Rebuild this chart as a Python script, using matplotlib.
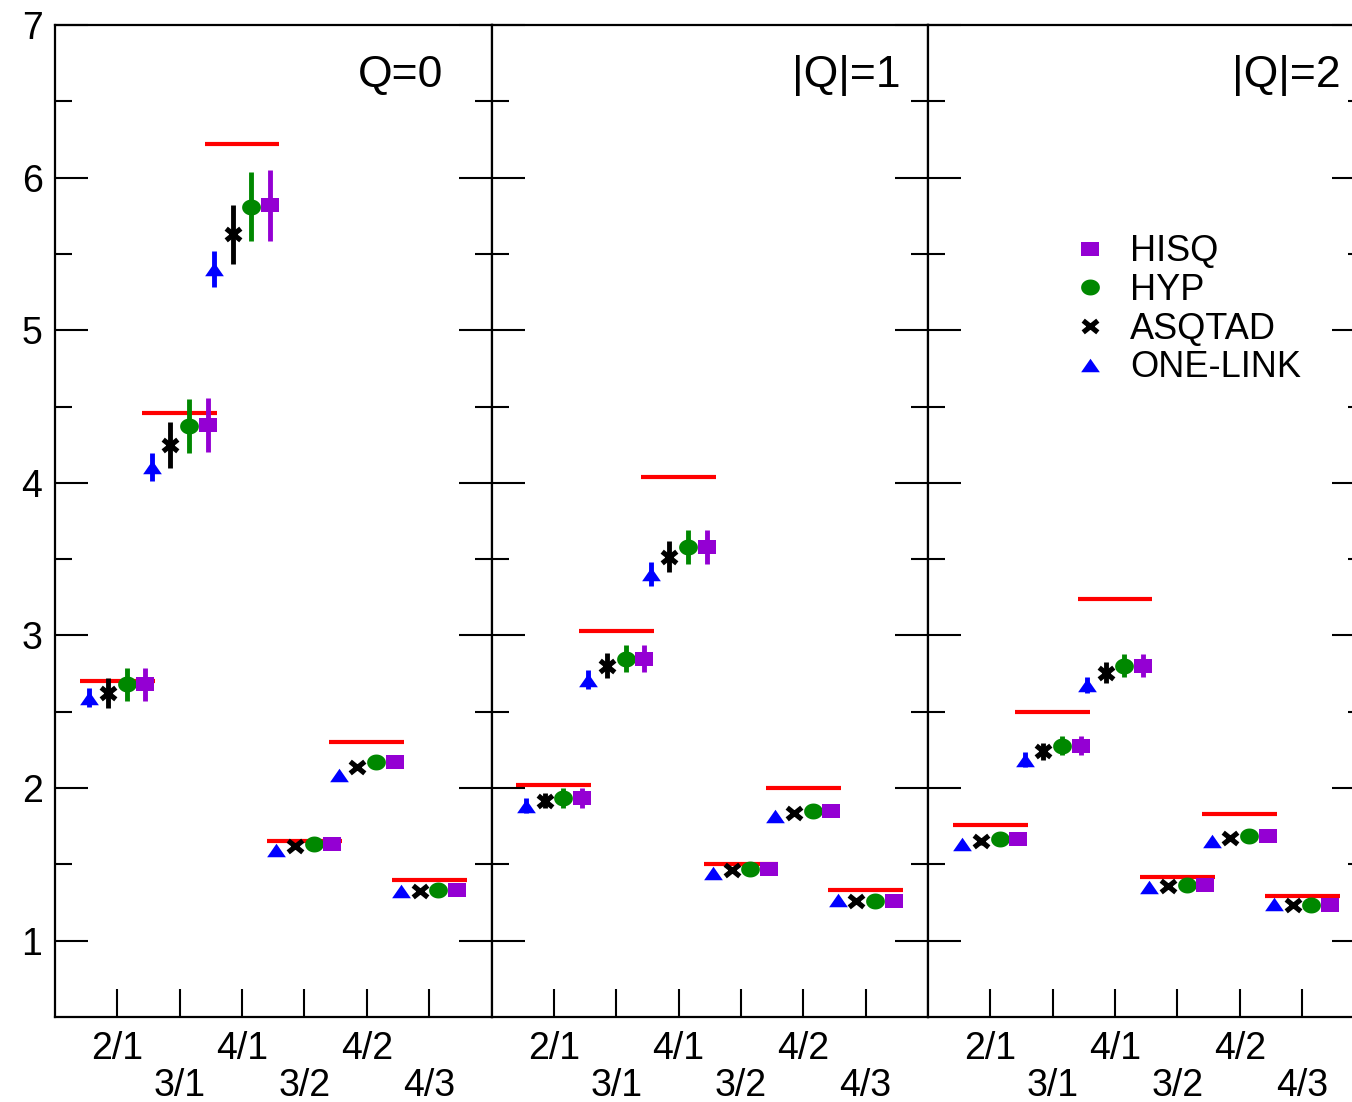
import numpy as np
import matplotlib
matplotlib.use("Agg")
import matplotlib.pyplot as plt
from matplotlib.path import Path
from matplotlib.lines import Line2D

plt.rcParams['font.family'] = ['Liberation Sans', 'DejaVu Sans']

# Ratio labels along x, one panel per topological sector
ratios = ['2/1', '3/1', '4/1', '3/2', '4/2', '4/3']
panel_titles = ['Q=0', '|Q|=1', '|Q|=2']

# Continuum expectation (red bars)
red_q0 = [2.70, 4.46, 6.22, 1.65, 2.30, 1.40]
red_q1 = [2.02, 3.03, 4.04, 1.50, 2.00, 1.33]
red_q2 = [1.76, 2.50, 3.24, 1.42, 1.83, 1.29]

# HISQ
hisq_q0 = [2.68, 4.38, 5.82, 1.635, 2.174, 1.329]
hisq_q0_err = [0.11, 0.175, 0.233, 0.02, 0.03, 0.02]
hisq_q1 = [1.934, 2.849, 3.582, 1.473, 1.853, 1.257]
hisq_q1_err = [0.065, 0.09, 0.111, 0.02, 0.025, 0.015]
hisq_q2 = [1.666, 2.277, 2.803, 1.367, 1.688, 1.233]
hisq_q2_err = [0.03, 0.062, 0.076, 0.015, 0.02, 0.012]

# HYP
hyp_q0 = [2.68, 4.372, 5.81, 1.634, 2.174, 1.329]
hyp_q0_err = [0.11, 0.175, 0.228, 0.02, 0.03, 0.02]
hyp_q1 = [1.934, 2.849, 3.582, 1.473, 1.853, 1.257]
hyp_q1_err = [0.065, 0.09, 0.111, 0.02, 0.025, 0.015]
hyp_q2 = [1.666, 2.277, 2.803, 1.367, 1.688, 1.233]
hyp_q2_err = [0.03, 0.062, 0.076, 0.015, 0.02, 0.012]

# ASQTAD
asq_q0 = [2.622, 4.248, 5.63, 1.618, 2.141, 1.323]
asq_q0_err = [0.097, 0.149, 0.193, 0.02, 0.02, 0.015]
asq_q1 = [1.917, 2.80, 3.517, 1.46, 1.836, 1.257]
asq_q1_err = [0.05, 0.082, 0.10, 0.015, 0.02, 0.012]
asq_q2 = [1.65, 2.24, 2.757, 1.36, 1.672, 1.233]
asq_q2_err = [0.025, 0.055, 0.07, 0.012, 0.015, 0.01]

# ONE-LINK
one_q0 = [2.593, 4.105, 5.40, 1.596, 2.087, 1.323]
one_q0_err = [0.064, 0.093, 0.118, 0.015, 0.015, 0.01]
one_q1 = [1.884, 2.711, 3.404, 1.443, 1.814, 1.268]
one_q1_err = [0.05, 0.063, 0.08, 0.012, 0.015, 0.01]
one_q2 = [1.635, 2.185, 2.678, 1.35, 1.65, 1.242]
one_q2_err = [0.02, 0.049, 0.052, 0.01, 0.012, 0.01]

red_all = [red_q0, red_q1, red_q2]
series = [
    # label, values per panel, errors per panel, offset, colour, marker
    ('ONE-LINK', [one_q0, one_q1, one_q2], [one_q0_err, one_q1_err, one_q2_err], -0.45, '#0000ff', 'tri'),
    ('ASQTAD', [asq_q0, asq_q1, asq_q2], [asq_q0_err, asq_q1_err, asq_q2_err], -0.15, 'black', 'x'),
    ('HYP', [hyp_q0, hyp_q1, hyp_q2], [hyp_q0_err, hyp_q1_err, hyp_q2_err], 0.15, '#008800', 'circ'),
    ('HISQ', [hisq_q0, hisq_q1, hisq_q2], [hisq_q0_err, hisq_q1_err, hisq_q2_err], 0.45, '#9400d3', 'sq'),
]

# slightly flattened markers like the original
tri_m = np.array([(-1, -0.72), (1, -0.72), (0, 0.72)])
t = np.linspace(0, 2 * np.pi, 60)
circ_m = np.column_stack([np.cos(t), 0.85 * np.sin(t)])
sq_m = np.array([(-1, -0.85), (1, -0.85), (1, 0.85), (-1, 0.85)])
x_m = Path([(-1, -0.8), (1, 0.8), (-1, 0.8), (1, -0.8)],
           [Path.MOVETO, Path.LINETO, Path.MOVETO, Path.LINETO])

marker_kw = {
    'tri': dict(marker=tri_m, markersize=13.5),
    'x': dict(marker=x_m, markersize=10.5, markeredgewidth=3.7),
    'circ': dict(marker=circ_m, markersize=13.5),
    'sq': dict(marker=sq_m, markersize=12.5),
}

fig = plt.figure(figsize=(13.52, 11.02), dpi=100)
bottom = 1 - 1017 / 1102
height = (1017 - 25) / 1102
width = 436.5 / 1352
lefts = [55 / 1352, 491.5 / 1352, 928 / 1352]
title_x = [0.889, 0.936, 0.946]

xpos = np.arange(1, len(ratios) + 1)
axes = []
for i in range(3):
    ax = fig.add_axes([lefts[i], bottom, width, height])
    axes.append(ax)

    # continuum lines
    ax.hlines(red_all[i], xpos - 0.6, xpos + 0.6, colors='#ff0000', lw=3, zorder=1)

    for name, vals, errs, off, col, mk in series:
        ax.errorbar(xpos + off, vals[i], yerr=errs[i], fmt='none', ecolor=col,
                    elinewidth=3.5, capsize=0, zorder=2)
        kw = marker_kw[mk]
        if mk == 'x':
            ax.plot(xpos + off, vals[i], ls='none', color=col, markeredgecolor=col,
                    zorder=3, **kw)
        else:
            ax.plot(xpos + off, vals[i], ls='none', color=col, markeredgewidth=0,
                    zorder=3, **kw)

    ax.set_xlim(0, 7)
    ax.set_ylim(0.5, 7)
    ax.set_yticks(np.arange(1, 8))
    ax.set_yticks(np.arange(1.5, 7, 1.0), minor=True)
    ax.set_xticks(xpos)
    ax.set_xticklabels([r if k % 2 == 0 else '\n' + r for k, r in enumerate(ratios)])
    for lbl in ax.get_xticklabels():
        lbl.set_linespacing(1.05)

    ax.tick_params(axis='y', which='major', direction='in', length=24, width=1.5,
                   left=True, right=True, labelleft=(i == 0), labelsize=27, pad=9)
    ax.tick_params(axis='y', which='minor', direction='in', length=12, width=1.5,
                   left=True, right=True)
    ax.tick_params(axis='x', which='major', direction='in', length=20, width=1.5,
                   top=False, labelsize=27, pad=10)
    for sp in ax.spines.values():
        sp.set_linewidth(1.6)

    ax.text(title_x[i], 0.9375, panel_titles[i], transform=ax.transAxes,
            ha='right', va='baseline', fontsize=32)

# legend (marker only, no error bars)
handles = []
for name in ['HISQ', 'HYP', 'ASQTAD', 'ONE-LINK']:
    s = [q for q in series if q[0] == name][0]
    kw = dict(marker_kw[s[5]])
    if s[5] == 'x':
        handles.append(Line2D([], [], ls='none', color=s[4], markeredgecolor=s[4], **kw))
    else:
        handles.append(Line2D([], [], ls='none', color=s[4], markeredgewidth=0, **kw))
axes[2].legend(handles, ['HISQ', 'HYP', 'ASQTAD', 'ONE-LINK'], loc='upper left',
               bbox_to_anchor=(0.33, 0.789), frameon=False, fontsize=26,
               handlelength=1.0, handletextpad=0.6, labelspacing=0.1,
               borderpad=0, borderaxespad=0, numpoints=1)

fig.savefig('out.png', dpi=100)
